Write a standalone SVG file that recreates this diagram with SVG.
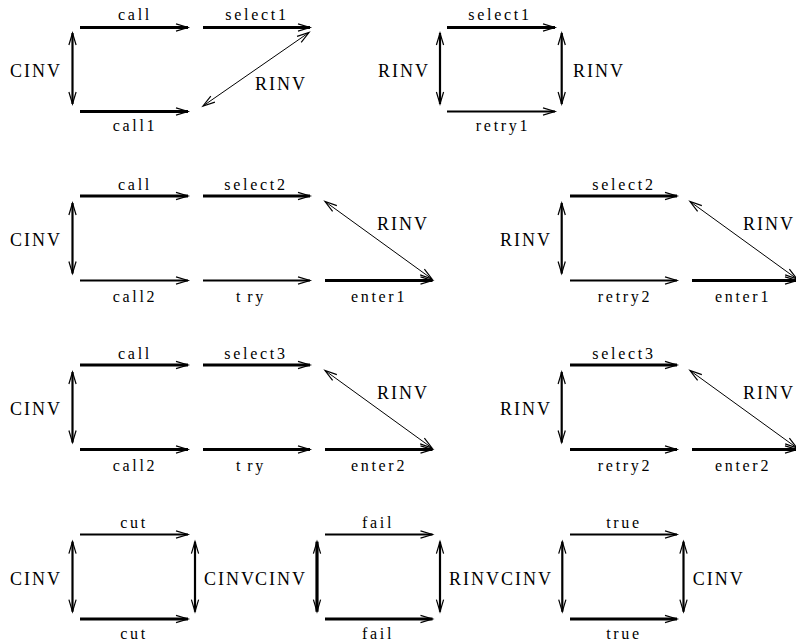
<svg xmlns="http://www.w3.org/2000/svg" width="796" height="644" viewBox="0 0 796 644">
  <style>
    .e { font: 16px "Liberation Serif", serif; letter-spacing: 2.7px; text-anchor: middle; fill: #000; }
    .n { font: 18px "Liberation Serif", serif; letter-spacing: 2px; fill: #000; }
    path { fill: none; stroke: #000; }
    .k { stroke-width: 3.2; marker-end: url(#ah); }
    .m { stroke-width: 2.2; marker-end: url(#ah); }
    .v { stroke-width: 2.2; marker-start: url(#ah); marker-end: url(#ah); }
    .vk { stroke-width: 3.2; marker-start: url(#ah); marker-end: url(#ah); }
    .d { stroke-width: 1; marker-start: url(#ah); marker-end: url(#ah); }
  </style>
  <defs>
    <!-- open chevron arrowhead, fixed size regardless of line weight -->
    <marker id="ah" viewBox="-14 -6 16 12" refX="0" refY="0" markerWidth="16" markerHeight="12" markerUnits="userSpaceOnUse" orient="auto-start-reverse" overflow="visible">
      <path d="M-12,-3.6 L0,0 L-12,3.6" style="stroke-width:1.2;marker:none"/>
    </marker>
  </defs>
  <rect width="796" height="644" fill="#fff"/>

  <g id="connectors">
    <!-- row 1, left square -->
    <path class="k" d="M80,27.5 H188"/>
    <path class="k" d="M203,27.5 H310"/>
    <path class="k" d="M80,111.5 H188"/>
    <path class="v" d="M72.5,33 V104"/>
    <path class="d" d="M203,106 L309,32.5"/>
    <!-- row 1, right square -->
    <path class="k" d="M447,27.5 H555"/>
    <path class="m" d="M447,111.5 H555"/>
    <path class="v" d="M440,33 V104"/>
    <path class="v" d="M561.7,33 V104"/>

    <!-- row 2, left -->
    <path class="k" d="M80,196 H188"/>
    <path class="k" d="M203,196 H310"/>
    <path class="m" d="M80,280.5 H188"/>
    <path class="m" d="M203,280.5 H310"/>
    <path class="k" d="M325,280.5 H432.5"/>
    <path class="v" d="M72.5,203 V273.5"/>
    <path class="d" d="M325,201.5 L432,279"/>
    <!-- row 2, right -->
    <path class="k" d="M570,196 H677"/>
    <path class="m" d="M570,280.5 H677"/>
    <path class="k" d="M692,280.5 H797"/>
    <path class="v" d="M561.7,203 V273.5"/>
    <path class="d" d="M690,201.5 L797,279"/>

    <!-- row 3, left -->
    <path class="k" d="M80,365 H188"/>
    <path class="k" d="M203,365 H310"/>
    <path class="k" d="M80,449.5 H188"/>
    <path class="k" d="M203,449.5 H310"/>
    <path class="k" d="M325,449.5 H432.5"/>
    <path class="v" d="M72.5,372 V442.5"/>
    <path class="d" d="M325,370.5 L432,448"/>
    <!-- row 3, right -->
    <path class="k" d="M570,365 H677"/>
    <path class="k" d="M570,449.5 H677"/>
    <path class="k" d="M692,449.5 H797"/>
    <path class="v" d="M561.7,372 V442.5"/>
    <path class="d" d="M690,370.5 L797,448"/>

    <!-- row 4 -->
    <path class="m" d="M80,534.5 H188"/>
    <path class="k" d="M80,619 H188"/>
    <path class="v" d="M72.5,541.7 V611.7"/>
    <path class="v" d="M195,541.7 V611.7"/>

    <path class="m" d="M325,534.5 H432.5"/>
    <path class="k" d="M325,619 H432.5"/>
    <path class="vk" d="M317,541.7 V611.7"/>
    <path class="v" d="M440,541.7 V611.7"/>

    <path class="m" d="M570,534.5 H677"/>
    <path class="k" d="M570,619 H677"/>
    <path class="v" d="M562.3,541.7 V611.7"/>
    <path class="v" d="M683.5,541.7 V611.7"/>
  </g>

  <g id="r1-left">
    <text class="e" x="135" y="20">call</text>
    <text class="e" x="257" y="20">select1</text>
    <text class="e" x="135" y="131">call1</text>
    <text class="n" x="10" y="77">CINV</text>
    <text class="n" x="255" y="90">RINV</text>
  </g>
  <g id="r1-right">
    <text class="e" x="500" y="20">select1</text>
    <text class="e" x="503" y="131">retry1</text>
    <text class="n" x="378" y="77">RINV</text>
    <text class="n" x="573" y="77">RINV</text>
  </g>

  <g id="r2-left">
    <text class="e" x="135" y="190">call</text>
    <text class="e" x="256" y="190">select2</text>
    <text class="e" x="135" y="302">call2</text>
    <text class="e" x="251" y="302">t<tspan dx="4">ry</tspan></text>
    <text class="e" x="379" y="302">enter1</text>
    <text class="n" x="10" y="246">CINV</text>
    <text class="n" x="377" y="230">RINV</text>
  </g>
  <g id="r2-right">
    <text class="e" x="624" y="190">select2</text>
    <text class="e" x="625" y="302">retry2</text>
    <text class="e" x="743" y="302">enter1</text>
    <text class="n" x="500" y="246">RINV</text>
    <text class="n" x="743" y="230">RINV</text>
  </g>

  <g id="r3-left">
    <text class="e" x="135" y="359">call</text>
    <text class="e" x="256" y="359">select3</text>
    <text class="e" x="135" y="471">call2</text>
    <text class="e" x="251" y="471">t<tspan dx="4">ry</tspan></text>
    <text class="e" x="379" y="471">enter2</text>
    <text class="n" x="10" y="415">CINV</text>
    <text class="n" x="377" y="399">RINV</text>
  </g>
  <g id="r3-right">
    <text class="e" x="624" y="359">select3</text>
    <text class="e" x="625" y="471">retry2</text>
    <text class="e" x="743" y="471">enter2</text>
    <text class="n" x="500" y="415">RINV</text>
    <text class="n" x="743" y="399">RINV</text>
  </g>

  <g id="r4-cut">
    <text class="e" x="134" y="527.5">cut</text>
    <text class="e" x="134" y="639">cut</text>
    <text class="n" x="10" y="584.5">CINV</text>
    <text class="n" x="204" y="584.5">CINV</text>
  </g>
  <g id="r4-fail">
    <text class="e" x="378" y="527.5">fail</text>
    <text class="e" x="378" y="639">fail</text>
    <text class="n" x="255" y="584.5">CINV</text>
    <text class="n" x="449" y="584.5">RINV</text>
  </g>
  <g id="r4-true">
    <text class="e" x="624" y="527.5">true</text>
    <text class="e" x="624" y="639">true</text>
    <text class="n" x="501" y="584.5">CINV</text>
    <text class="n" x="692.7" y="584.5">CINV</text>
  </g>
</svg>
